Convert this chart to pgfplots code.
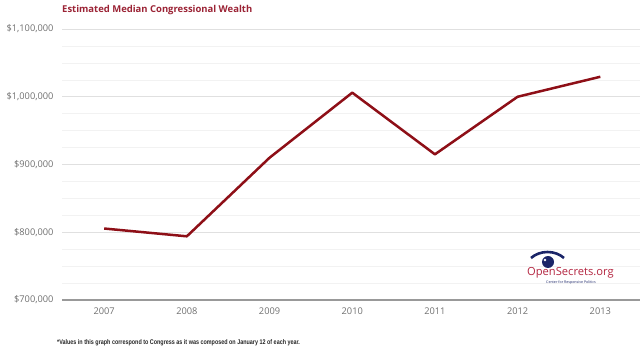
\documentclass[border=0pt]{standalone}
\usepackage{pgfplots}
\pgfplotsset{compat=1.18}
\usepackage{fontspec}
\setmainfont{Open Sans}
\newfontfamily\footfont[FakeStretch=0.8]{Liberation Sans}
\definecolor{linered}{HTML}{8E0F17}
\definecolor{titlered}{HTML}{9B2335}
\definecolor{ticktext}{HTML}{707070}
\definecolor{navy}{HTML}{1B2568}
\definecolor{logored}{HTML}{B3243F}
\begin{document}
\begin{tikzpicture}
\path[use as bounding box] (0bp,0bp) rectangle (640bp,350bp);
\begin{axis}[at={(62bp,50bp)}, anchor=south west, scale only axis,
  width=578bp, height=271bp,
  xmin=-0.51, xmax=6.48, ymin=700000, ymax=1100000,
  scaled y ticks=false,
  xtick={0,...,6}, xticklabels={2007,2008,2009,2010,2011,2012,2013},
  ytick={700000,800000,900000,1000000,1100000},
  yticklabels={{\$700,000},{\$800,000},{\$900,000},{\$1,000,000},{\$1,100,000}},
  minor y tick num=3,
  ymajorgrids, yminorgrids,
  major grid style={draw=black!12, line width=0.8bp},
  minor grid style={draw=black!5, line width=0.6bp},
  axis line style={draw=none},
  major tick length=0pt, minor tick length=0pt,
  tick label style={font=\fontsize{9.3}{11}\selectfont, text=ticktext},
  yticklabel style={xshift=-5bp},
  xticklabel style={yshift=-4bp},
  clip=false,
]
\draw[black!40, line width=1.5bp] (rel axis cs:0,0) -- (rel axis cs:1,0);
\addplot[linered, line width=2.5bp, line join=round] coordinates {
  (0,805500) (1,794000) (2,910000) (3,1006000) (4,915000) (5,1000000) (6,1029500)};
\end{axis}
\node[anchor=west, font=\fontsize{9.5}{11}\selectfont\bfseries, text=titlered, inner sep=0pt] at (62bp,340bp) {Estimated Median Congressional Wealth};
\node[anchor=west, font=\footfont\fontsize{6.8}{7}\selectfont\bfseries, text=black!85, inner sep=0pt] at (57bp,7bp) {*Values in this graph correspond to Congress as it was composed on January 12 of each year.};
% logo
\draw[navy, line width=2.6bp] (531bp,92bp) .. controls (540bp,100bp) and (555bp,100bp) .. (564bp,92bp);
\fill[navy] (548bp,88bp) circle (6bp);
\fill[white] (545bp,90bp) circle (1.3bp);
\node[anchor=base west, font=\fontsize{11.2}{13}\selectfont, text=logored, inner sep=0pt] at (527bp,74bp) {OpenSecrets.org};
\node[anchor=base, font=\fontsize{3.6}{4}\selectfont, text=navy, inner sep=0pt] at (571bp,66bp) {Center for Responsive Politics};
\end{tikzpicture}
\end{document}
